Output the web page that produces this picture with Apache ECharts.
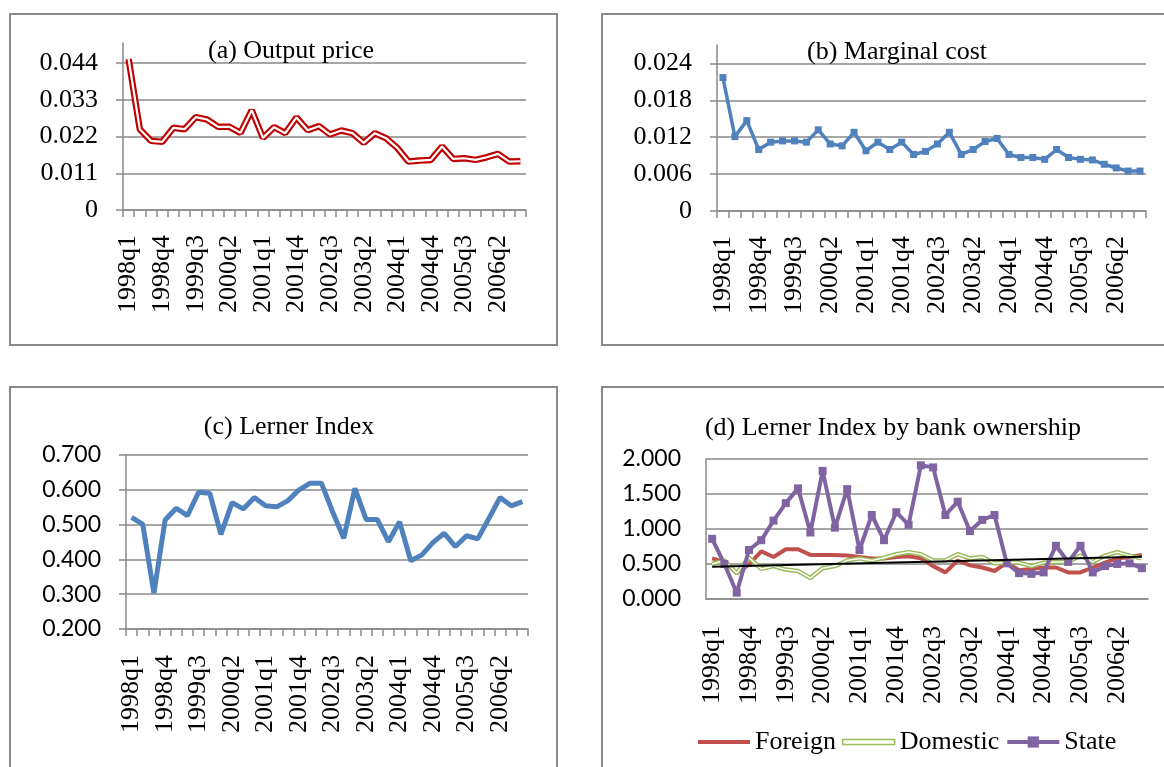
<!DOCTYPE html>
<html>
<head>
<meta charset="utf-8">
<script src="https://cdn.jsdelivr.net/npm/echarts@6/dist/echarts.min.js"></script>
<style>
  html, body { margin: 0; padding: 0; background: #fff; }
  #chart { width: 1164px; height: 767px; }
</style>
</head>
<body>
<div id="chart"></div>
<script>
const quarters = [
  "1998q1", "1998q2", "1998q3", "1998q4", "1999q1", "1999q2", "1999q3", "1999q4",
  "2000q1", "2000q2", "2000q3", "2000q4", "2001q1", "2001q2", "2001q3", "2001q4",
  "2002q1", "2002q2", "2002q3", "2002q4", "2003q1", "2003q2", "2003q3", "2003q4",
  "2004q1", "2004q2", "2004q3", "2004q4", "2005q1", "2005q2", "2005q3", "2005q4",
  "2006q1", "2006q2", "2006q3", "2006q4"
];

const outputPrice = [
  0.0452, 0.0242, 0.0207, 0.0204, 0.0246, 0.0242, 0.0278, 0.0271, 0.0249, 0.0249,
  0.0231, 0.0299, 0.0216, 0.0248, 0.0230, 0.0277, 0.0239, 0.0251, 0.0226, 0.0238,
  0.0230, 0.0201, 0.0230, 0.0215, 0.0186, 0.0145, 0.0148, 0.0150, 0.0190, 0.0153,
  0.0155, 0.0150, 0.0158, 0.0168, 0.0145, 0.0146
];

const marginalCost = [
  0.0217, 0.0121, 0.0147, 0.0100, 0.0112, 0.0114, 0.0114, 0.0112, 0.0132, 0.0109,
  0.0106, 0.0128, 0.0098, 0.0112, 0.0100, 0.0112, 0.0092, 0.0097, 0.0109, 0.0128,
  0.0092, 0.0100, 0.0113, 0.0118, 0.0092, 0.0087, 0.0087, 0.0084, 0.0100, 0.0087,
  0.0084, 0.0083, 0.0076, 0.0070, 0.0065, 0.0065
];

const lernerIndex = [
  0.521, 0.501, 0.303, 0.513, 0.547, 0.526, 0.593, 0.590, 0.472, 0.563,
  0.545, 0.578, 0.554, 0.551, 0.569, 0.600, 0.619, 0.619, 0.537, 0.461,
  0.604, 0.515, 0.515, 0.451, 0.508, 0.396, 0.413, 0.449, 0.475, 0.437,
  0.468, 0.459, 0.518, 0.578, 0.554, 0.566
];

const foreignLerner = [
  0.58, 0.53, 0.37, 0.49, 0.68, 0.60, 0.71, 0.71, 0.63, 0.63,
  0.63, 0.62, 0.60, 0.58, 0.58, 0.60, 0.61, 0.58, 0.47, 0.38,
  0.55, 0.48, 0.45, 0.40, 0.52, 0.41, 0.43, 0.45, 0.45, 0.38,
  0.38, 0.45, 0.52, 0.58, 0.60, 0.63
];

const domesticLerner = [
  0.50, 0.55, 0.37, 0.59, 0.43, 0.47, 0.42, 0.40, 0.30, 0.44,
  0.47, 0.55, 0.58, 0.55, 0.59, 0.64, 0.67, 0.64, 0.55, 0.55,
  0.64, 0.58, 0.60, 0.51, 0.52, 0.52, 0.47, 0.52, 0.53, 0.53,
  0.62, 0.53, 0.62, 0.67, 0.62, 0.58
];

const stateLerner = [
  0.86, 0.50, 0.09, 0.70, 0.84, 1.12, 1.37, 1.58, 0.95, 1.83,
  1.02, 1.57, 0.70, 1.20, 0.84, 1.24, 1.06, 1.91, 1.88, 1.20,
  1.39, 0.97, 1.13, 1.20, 0.51, 0.37, 0.36, 0.38, 0.76, 0.53,
  0.76, 0.38, 0.47, 0.50, 0.51, 0.44
];

// linear trend line, read at both ends
const trendEnds = [["1998q1", 0.462], ["2006q4", 0.605]];

const serif = "Liberation Serif";
const sans = "Lato";
const grey = "#898989";

const chart = echarts.init(document.getElementById("chart"), null, { renderer: "canvas" });

function xAxisFor(gridIndex, margin, showTicks) {
  return {
    type: "category",
    gridIndex: gridIndex,
    data: quarters,
    boundaryGap: true,
    axisLine: { show: true, lineStyle: { color: grey, width: 1.5 } },
    axisTick: { show: showTicks, interval: 0, length: 7, lineStyle: { color: grey, width: 1.5 } },
    axisLabel: {
      interval: 2,
      rotate: 90,
      margin: margin,
      color: "#000",
      fontFamily: serif,
      fontSize: 26
    },
    splitLine: { show: false }
  };
}

function yAxisFor(gridIndex, min, max, interval, font, fontSize, fmt, showTicks) {
  return {
    type: "value",
    gridIndex: gridIndex,
    min: min,
    max: max,
    interval: interval,
    axisLine: { show: true, lineStyle: { color: grey, width: 1.5 } },
    axisTick: { show: showTicks, length: 7, lineStyle: { color: grey, width: 1.5 } },
    axisLabel: {
      margin: 25,
      color: "#000",
      fontFamily: font,
      fontSize: fontSize,
      showMaxLabel: false,
      formatter: fmt
    },
    splitLine: { show: true, showMaxLine: true, lineStyle: { color: grey, width: 1.5 } }
  };
}

const fmtSmall = v => (v === 0 ? "0" : v.toFixed(3));
const fmt3 = v => v.toFixed(3);

const yA = yAxisFor(0, 0, 0.05, 0.011, serif, 26, fmtSmall, true);
yA.splitLine.showMaxLine = false;
const yB = yAxisFor(1, 0, 0.027, 0.006, serif, 26, fmtSmall, true);
yB.splitLine.showMaxLine = false;
const yC = yAxisFor(2, 0.2, 0.7, 0.1, sans, 23, fmt3, true);
yC.axisLabel.showMaxLabel = true;
const yD = yAxisFor(3, 0, 2, 0.5, sans, 23, fmt3, false);
yD.axisLabel.showMaxLabel = true;

const titleStyle = { fontFamily: serif, fontSize: 26, fontWeight: "normal", color: "#000" };

const option = {
  backgroundColor: "#fff",
  animation: false,
  title: [
    { text: "(a) Output price", left: 286, top: 33, textAlign: "center", textStyle: titleStyle },
    { text: "(b) Marginal cost", left: 892, top: 34, textAlign: "center", textStyle: titleStyle },
    { text: "(c) Lerner Index", left: 284, top: 409, textAlign: "center", textStyle: titleStyle },
    { text: "(d) Lerner Index by bank ownership", left: 888, top: 410, textAlign: "center", textStyle: titleStyle }
  ],
  graphic: [
    { type: "rect", shape: { x: 10, y: 14, width: 547, height: 331 }, style: { fill: "none", stroke: grey, lineWidth: 2 } },
    { type: "rect", shape: { x: 602, y: 14, width: 600, height: 331 }, style: { fill: "none", stroke: grey, lineWidth: 2 } },
    { type: "rect", shape: { x: 10, y: 387, width: 547, height: 420 }, style: { fill: "none", stroke: grey, lineWidth: 2 } },
    { type: "rect", shape: { x: 602, y: 387, width: 600, height: 420 }, style: { fill: "none", stroke: grey, lineWidth: 2 } }
  ],
  legend: {
    left: 693,
    top: 724,
    itemWidth: 52,
    itemHeight: 14,
    itemGap: 6,
    selectedMode: false,
    textStyle: { fontFamily: serif, fontSize: 26, color: "#000" },
    data: [
      {
        name: "Foreign",
        icon: "path://M0,0 L52,0 L52,4 L0,4 Z",
        itemStyle: { color: "#C0504D", borderWidth: 0 }
      },
      {
        name: "Domestic",
        icon: "path://M0,0 L52,0 L52,5 L0,5 Z",
        itemStyle: { color: "#fff", borderColor: "#9BBB59", borderWidth: 1.5 }
      },
      { name: "State", lineStyle: { width: 4 } }
    ]
  },
  grid: [
    { left: 123, top: 43, width: 403, height: 167 },
    { left: 717, top: 45, width: 429, height: 166 },
    { left: 126, top: 455, width: 402, height: 174 },
    { left: 706, top: 459, width: 442, height: 140 }
  ],
  xAxis: [
    xAxisFor(0, 25, true),
    xAxisFor(1, 25, true),
    xAxisFor(2, 26, true),
    xAxisFor(3, 27, false)
  ],
  yAxis: [yA, yB, yC, yD],
  series: [
    {
      name: "Output price",
      type: "line",
      xAxisIndex: 0, yAxisIndex: 0,
      data: outputPrice,
      symbol: "none",
      lineStyle: { color: "#C00000", width: 6.5 },
      z: 3
    },
    {
      name: "Output price inner",
      type: "line",
      xAxisIndex: 0, yAxisIndex: 0,
      data: outputPrice,
      symbol: "none",
      lineStyle: { color: "#fff", width: 2.2 },
      z: 4
    },
    {
      name: "Marginal cost",
      type: "line",
      xAxisIndex: 1, yAxisIndex: 1,
      data: marginalCost,
      symbol: "rect",
      symbolSize: 7,
      itemStyle: { color: "#4F81BD" },
      lineStyle: { color: "#4F81BD", width: 3.5 }
    },
    {
      name: "Lerner Index",
      type: "line",
      xAxisIndex: 2, yAxisIndex: 2,
      data: lernerIndex,
      symbol: "none",
      lineStyle: { color: "#4F81BD", width: 5 }
    },
    {
      name: "Foreign",
      type: "line",
      xAxisIndex: 3, yAxisIndex: 3,
      data: foreignLerner,
      symbol: "none",
      itemStyle: { color: "#C0504D" },
      lineStyle: { color: "#C0504D", width: 4 },
      z: 2
    },
    {
      name: "Domestic",
      type: "line",
      xAxisIndex: 3, yAxisIndex: 3,
      data: domesticLerner,
      symbol: "none",
      itemStyle: { color: "#9BBB59" },
      lineStyle: { color: "#9BBB59", width: 4.5 },
      z: 3
    },
    {
      name: "Domestic inner",
      type: "line",
      xAxisIndex: 3, yAxisIndex: 3,
      data: domesticLerner,
      symbol: "none",
      lineStyle: { color: "#fff", width: 1.5 },
      z: 4
    },
    {
      name: "State",
      type: "line",
      xAxisIndex: 3, yAxisIndex: 3,
      data: stateLerner,
      symbol: "rect",
      symbolSize: 8,
      itemStyle: { color: "#8064A2" },
      lineStyle: { color: "#8064A2", width: 4 },
      z: 5
    },
    {
      name: "Trend",
      type: "line",
      xAxisIndex: 3, yAxisIndex: 3,
      data: trendEnds,
      symbol: "none",
      lineStyle: { color: "#000", width: 2 },
      z: 6
    }
  ]
};

chart.setOption(option);
</script>
</body>
</html>
